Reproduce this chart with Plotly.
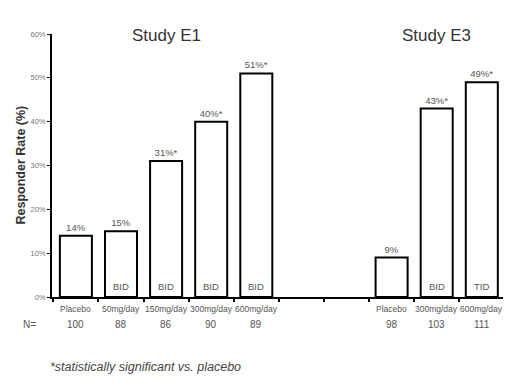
import plotly.graph_objects as go

# ---- data ----
e1_doses = ["Placebo", "50mg/day", "150mg/day", "300mg/day", "600mg/day"]
e1_rates = [14, 15, 31, 40, 51]
e1_labels = ["14%", "15%", "31%*", "40%*", "51%*"]
e1_regimen = ["", "BID", "BID", "BID", "BID"]
e1_n = [100, 88, 86, 90, 89]

e3_doses = ["Placebo", "300mg/day", "600mg/day"]
e3_rates = [9, 43, 49]
e3_labels = ["9%", "43%*", "49%*"]
e3_regimen = ["", "BID", "TID"]
e3_n = [98, 103, 111]

y_ticks = [0, 10, 20, 30, 40, 50, 60]

# ---- layout helpers ----
gap = 2
x1 = list(range(len(e1_doses)))
x3 = [len(e1_doses) + gap + i for i in range(len(e3_doses))]
xs = x1 + x3
rates = e1_rates + e3_rates
labels = e1_labels + e3_labels
regimen = e1_regimen + e3_regimen
doses = e1_doses + e3_doses
ns = e1_n + e3_n

FONT = "Liberation Sans, Arial, sans-serif"
GRAY = "#555555"

fig = go.Figure()
fig.add_trace(go.Bar(
    x=xs, y=rates, width=0.71,
    marker=dict(color="white", line=dict(color="black", width=2)),
    text=labels, textposition="outside", cliponaxis=False,
    textfont=dict(family=FONT, size=9.5, color=GRAY),
    hoverinfo="skip",
))

ann = []
for x, r in zip(xs, regimen):
    if r:
        ann.append(dict(x=x, y=0, xref="x", yref="y", text=r, showarrow=False,
                        yanchor="bottom", yshift=3,
                        font=dict(family=FONT, size=9.5, color=GRAY)))
for x, d, n in zip(xs, doses, ns):
    ann.append(dict(x=x, y=0, xref="x", yref="y", text=d, showarrow=False,
                    yanchor="top", yshift=-5,
                    font=dict(family=FONT, size=8.5, color=GRAY)))
    ann.append(dict(x=x, y=0, xref="x", yref="y", text=str(n), showarrow=False,
                    yanchor="top", yshift=-20,
                    font=dict(family=FONT, size=10, color=GRAY)))
ann.append(dict(x=0, y=0, xref="paper", yref="y", text="N=", showarrow=False,
                xanchor="right", yanchor="top", yshift=-20, xshift=-14,
                font=dict(family=FONT, size=10, color=GRAY)))
ann.append(dict(x=sum(x1) / len(x1), y=60, xref="x", yref="y", text="Study E1",
                showarrow=False, yanchor="middle", yshift=-1,
                font=dict(family=FONT, size=17, color="#333333")))
ann.append(dict(x=sum(x3) / len(x3), y=60, xref="x", yref="y", text="Study E3",
                showarrow=False, yanchor="middle", yshift=-1,
                font=dict(family=FONT, size=17, color="#333333")))
ann.append(dict(x=0, y=30, xref="paper", yref="y", text="<b>Responder Rate (%)</b>",
                showarrow=False, textangle=-90, xanchor="center", yanchor="middle",
                xshift=-32,
                font=dict(family=FONT, size=12.5, color="#333333")))
ann.append(dict(x=0, y=0, xref="paper", yref="paper", text="<i>*statistically significant vs. placebo</i>",
                showarrow=False, xanchor="left", yanchor="middle", xshift=-4, yshift=-70,
                font=dict(family=FONT, size=12.5, color="#444444")))

fig.update_layout(
    width=520, height=391,
    margin=dict(l=44, r=25, t=26, b=102, autoexpand=False),
    plot_bgcolor="white", paper_bgcolor="white",
    showlegend=False,
    annotations=ann,
    xaxis=dict(range=[-0.53, xs[-1] + 0.47], showgrid=False, zeroline=False,
               showline=True, linecolor="black", linewidth=2, automargin=False,
               tickmode="array", tickvals=[i + 0.5 for i in range(-1, xs[-1] + 1)],
               ticktext=[""] * (xs[-1] + 2), ticks="outside", ticklen=3,
               tickwidth=2, tickcolor="black"),
    yaxis=dict(range=[0, 60], showgrid=False, zeroline=False,
               showline=True, linecolor="black", linewidth=2, automargin=False,
               tickmode="array", tickvals=y_ticks,
               ticktext=[f"{v}%" for v in y_ticks],
               ticks="outside", ticklen=3, tickcolor="black",
               tickfont=dict(family=FONT, size=7.5, color="#777777")),
)

fig.write_html("out.html")
